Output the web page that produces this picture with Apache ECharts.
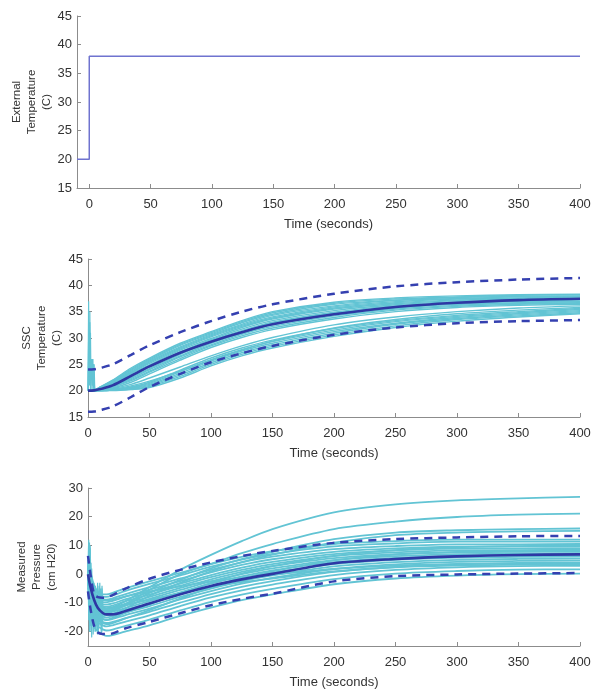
<!DOCTYPE html>
<html>
<head>
<meta charset="utf-8">
<title>SSC temperature and pressure</title>
<script src="https://cdn.jsdelivr.net/npm/echarts@6/dist/echarts.min.js"></script>
<style>
  html, body { margin: 0; padding: 0; background: #fff; }
  #main { width: 602px; height: 700px; }
</style>
</head>
<body>
<div id="main"></div>
<script>
// ---- data ----
// tick labels
const timeTicks = [0, 50, 100, 150, 200, 250, 300, 350, 400]
const tempTicks = [15, 20, 25, 30, 35, 40, 45]
const presTicks = [-20, -10, 0, 10, 20, 30]

// 1. external temperature (step)
const extTime = [-10, 0, 0, 400]
const extTemp = [20, 20, 38, 38]

// 2. SSC temperature
const sscTime = [0, 5, 10, 20, 35, 50, 75, 100, 125, 150, 200, 250, 300, 350, 400]
const sscMean = [20, 20.05, 20.3, 21.0, 22.8, 24.6, 27.2, 29.3, 31.1, 32.6, 34.5, 35.9, 36.7, 37.2, 37.45]
const sscUpper = [24, 24.05, 24.3, 25.0, 26.8, 28.6, 31.1, 33.2, 35.0, 36.4, 38.4, 39.8, 40.6, 41.1, 41.4]
const sscLower = [16, 16.05, 16.3, 17.0, 18.8, 20.7, 23.2, 25.4, 27.1, 28.5, 30.6, 32.0, 32.8, 33.2, 33.4]
const sscRuns = [
  // main group
  [20, 20.1, 20.7, 22.0, 24.3, 26.2, 29.0, 31.2, 33.3, 35.0, 36.8, 37.6, 38.0, 38.2, 38.3],
  [20, 20.1, 20.7, 21.9, 24.1, 26.0, 28.8, 31.0, 33.1, 34.8, 36.6, 37.4, 37.8, 38.1, 38.2],
  [20, 20.1, 20.6, 21.8, 23.9, 25.8, 28.6, 30.8, 32.9, 34.5, 36.4, 37.2, 37.7, 37.9, 38.0],
  [20, 20.1, 20.6, 21.7, 23.7, 25.6, 28.3, 30.6, 32.6, 34.3, 36.1, 37.1, 37.5, 37.8, 37.9],
  [20, 20.1, 20.5, 21.6, 23.5, 25.4, 28.1, 30.4, 32.4, 34.0, 35.9, 36.9, 37.4, 37.6, 37.8],
  [20, 20.1, 20.5, 21.5, 23.4, 25.2, 27.9, 30.2, 32.2, 33.8, 35.7, 36.7, 37.2, 37.5, 37.6],
  [20, 20.1, 20.4, 21.4, 23.2, 24.9, 27.7, 29.9, 32.0, 33.6, 35.5, 36.5, 37.1, 37.4, 37.5],
  [20, 20.1, 20.4, 21.3, 23.0, 24.7, 27.4, 29.7, 31.7, 33.3, 35.2, 36.3, 36.9, 37.2, 37.4],
  [20, 20.0, 20.4, 21.1, 22.7, 24.5, 27.1, 29.5, 31.4, 33.0, 34.9, 36.1, 36.7, 37.0, 37.2],
  [20, 20.0, 20.3, 21.0, 22.5, 24.2, 26.9, 29.2, 31.2, 32.8, 34.7, 35.9, 36.5, 36.9, 37.0],
  [20, 20.0, 20.3, 20.9, 22.3, 24.0, 26.6, 29.0, 30.9, 32.5, 34.4, 35.7, 36.4, 36.7, 36.9],
  [20, 20.0, 20.2, 20.8, 22.1, 23.7, 26.4, 28.7, 30.7, 32.2, 34.2, 35.5, 36.2, 36.6, 36.7],
  [20, 20.0, 20.2, 20.7, 21.9, 23.5, 26.1, 28.5, 30.4, 31.9, 33.9, 35.3, 36.0, 36.4, 36.6],
  [20, 20.0, 20.1, 20.5, 21.6, 23.2, 25.8, 28.2, 30.1, 31.6, 33.6, 35.0, 35.8, 36.2, 36.4],
  // in between
  [20, 20.0, 20.1, 20.4, 21.2, 22.4, 24.5, 26.6, 28.5, 30.1, 32.5, 34.0, 35.0, 35.7, 36.1],
  [20, 20.0, 20.1, 20.3, 20.9, 21.8, 23.7, 25.8, 27.7, 29.4, 31.9, 33.5, 34.6, 35.3, 35.8],
  // slow group
  [20, 20.0, 20.0, 20.2, 20.7, 21.6, 23.9, 26.2, 28.1, 29.6, 31.8, 33.3, 34.3, 35.0, 35.6],
  [20, 20.0, 20.0, 20.2, 20.6, 21.4, 23.6, 25.9, 27.8, 29.3, 31.5, 33.1, 34.1, 34.8, 35.4],
  [20, 20.0, 20.0, 20.1, 20.5, 21.2, 23.3, 25.6, 27.5, 29.0, 31.2, 32.8, 33.9, 34.6, 35.2],
  [20, 20.0, 20.0, 20.1, 20.4, 21.0, 23.0, 25.3, 27.2, 28.7, 30.9, 32.6, 33.7, 34.4, 35.0],
  [20, 20.0, 20.0, 20.1, 20.3, 20.8, 22.7, 25.0, 26.9, 28.4, 30.6, 32.3, 33.5, 34.2, 34.8],
  [20, 20.0, 20.0, 20.0, 20.2, 20.6, 22.4, 24.7, 26.6, 28.1, 30.3, 32.0, 33.2, 34.0, 34.6]
]
// start-up noise on the SSC traces
const sscNoiseTime = [0, 0.5, 1, 1.5, 2, 2.5, 3, 3.5, 4, 4.5, 5, 5.5]
const sscNoise = [
  [20, 37, 21, 33, 20, 25, 22, 26, 20, 25, 21, 20],
  [20, 30, 22, 35, 21, 24, 25, 21, 26, 20, 25, 20],
  [20, 26, 29, 22, 31, 20, 26, 25, 21, 24, 22, 20]
]

// 3. measured pressure
const presTime = [0, 2, 5, 8, 12, 15, 20, 30, 50, 75, 100, 125, 150, 200, 250, 300, 350, 400]
const presMean = [0, -4.5, -9, -11.8, -13.5, -14.0, -14.0, -12.9, -10.2, -7.0, -4.1, -1.8, 0.1, 3.8, 5.3, 6.2, 6.7, 6.9]
const presUpper = [6.4, 0, -7, -8, -8.2, -8, -7.3, -5.1, -1.6, 1.5, 4.1, 6.3, 8.1, 10.9, 12.2, 12.8, 13.2, 13.3]
const presLower = [-6, -12, -18, -20.3, -20.8, -20.8, -20.6, -18.9, -16.6, -13.6, -10.8, -8.6, -6.8, -2.5, -0.7, -0.1, 0.2, 0.4]
const presRuns = [
  // runs drifting high
  [2, -2, -7, -10, -11.5, -11.8, -11.5, -9.5, -4.5, 1.5, 6.7, 11.5, 15.7, 21.5, 24.3, 25.7, 26.4, 26.9],
  [1, -3, -8, -11, -12.5, -12.8, -12.4, -10.5, -5.5, 0, 3.6, 7.3, 10.5, 15.7, 18.3, 19.9, 20.7, 21.1],
  [0, -4, -9, -12, -13, -13.2, -12.8, -11, -6.5, -2, 2.0, 5.2, 7.8, 12.2, 14.5, 15.3, 15.7, 15.9],
  [-1, -5, -10, -13, -14, -14.2, -13.8, -12, -7.5, -3, 1.0, 4.2, 6.8, 11.0, 13.6, 14.5, 14.9, 15.1],
  // main band
  [5, 1, -4, -6, -7, -7, -6.5, -5, -2.5, 0.5, 3.5, 6, 8, 10.5, 11.5, 12, 12, 12],
  [4.3, 0.2, -4.8, -6.8, -7.8, -7.9, -7.4, -5.9, -3.4, -0.4, 2.6, 5.1, 7.1, 9.7, 10.7, 11.3, 11.3, 11.3],
  [3.6, -0.8, -5.8, -7.8, -8.8, -8.9, -8.4, -7.0, -4.5, -1.5, 1.5, 4.1, 6.1, 8.7, 9.8, 10.4, 10.4, 10.5],
  [2.9, -1.7, -6.7, -8.7, -9.7, -9.8, -9.3, -7.9, -5.4, -2.4, 0.6, 3.2, 5.2, 7.8, 9.0, 9.6, 9.7, 9.8],
  [2.3, -2.5, -7.5, -9.5, -10.5, -10.6, -10.2, -8.8, -6.3, -3.3, -0.3, 2.3, 4.3, 7.0, 8.3, 8.9, 9.0, 9.1],
  [1.7, -3.2, -8.2, -10.2, -11.2, -11.4, -10.9, -9.5, -7.1, -4.0, -1.0, 1.5, 3.5, 6.3, 7.6, 8.3, 8.4, 8.5],
  [1.2, -3.9, -8.9, -10.9, -11.9, -12.1, -11.7, -10.3, -7.9, -4.8, -1.8, 0.8, 2.8, 5.6, 7.0, 7.6, 7.8, 7.9],
  [0.6, -4.6, -9.6, -11.6, -12.6, -12.8, -12.4, -11.0, -8.6, -5.5, -2.5, 0.0, 2.0, 4.9, 6.3, 7.0, 7.2, 7.3],
  [0.1, -5.3, -10.3, -12.3, -13.3, -13.5, -13.1, -11.8, -9.4, -6.3, -3.3, -0.8, 1.3, 4.2, 5.7, 6.4, 6.6, 6.7],
  [-0.5, -6.0, -11.0, -13.0, -14.0, -14.3, -13.9, -12.5, -10.2, -7.0, -4.1, -1.5, 0.5, 3.5, 5.0, 5.8, 6.0, 6.1],
  [-1.2, -6.8, -11.8, -13.8, -14.8, -15.1, -14.7, -13.4, -11.1, -7.9, -5.0, -2.4, -0.4, 2.7, 4.2, 5.0, 5.3, 5.4],
  [-1.8, -7.7, -12.7, -14.7, -15.7, -16.0, -15.6, -14.3, -12.0, -8.8, -5.9, -3.3, -1.3, 1.8, 3.4, 4.3, 4.6, 4.7],
  [-2.6, -8.7, -13.7, -15.7, -16.7, -17.0, -16.6, -15.4, -13.1, -9.9, -6.9, -4.4, -2.4, 0.8, 2.5, 3.4, 3.7, 3.9],
  [-3.5, -9.8, -14.8, -16.8, -17.8, -18.2, -17.8, -16.6, -14.3, -11.1, -8.1, -5.6, -3.6, -0.3, 1.5, 2.4, 2.8, 2.9],
  [-4.6, -11.2, -16.2, -18.2, -19.2, -19.6, -19.3, -18.1, -15.8, -12.6, -9.6, -7.1, -5.1, -1.7, 0.2, 1.1, 1.6, 1.7],
  [-6, -13, -18, -20, -21, -21.5, -21.2, -20, -17.8, -14.5, -11.6, -9, -7, -3.5, -1.5, -0.5, 0, 0.2],
  // crossing runs
  [-3, -9, -14, -16, -17, -17.4, -17, -15.5, -12.5, -8.5, -4.5, -1.5, 1.0, 4.8, 6.8, 7.8, 8.2, 8.4],
  [3, -1, -6, -8, -9, -9.2, -8.8, -7.8, -6.0, -4.2, -2.5, -1.2, -0.2, 1.8, 3.0, 3.6, 3.9, 4.0],
  [-1, -7, -12, -14.5, -15.5, -15.8, -15.2, -13.6, -10.5, -6.8, -3.0, 0.2, 2.8, 6.4, 8.4, 9.4, 9.8, 10.0],
  [1, -4, -9, -11, -12, -12.2, -11.9, -10.8, -8.9, -6.6, -4.5, -2.8, -1.5, 1.0, 2.4, 3.0, 3.3, 3.4]
]
const presNoiseTime = [0, 0.6, 1.2, 1.8, 2.4, 3, 3.6, 4.2, 4.8, 5.4, 6, 6.6, 7.2, 7.8, 8.4, 9, 9.6, 10.2, 10.8, 11.4, 12]
const presNoise = [
  [3, 12, -8, 9, -15, -3, -18, -6, -12, -4, -20, -7, -14, -5, -19, -4, -16, -6, -18, -5, -12],
  [-2, 8, -20, 10, -6, -22, -5, -10, -3, -19, -8, -16, -8, -21, -6, -13, -3, -17, -9, -4, -15],
  [0, -10, 11, -18, 4, -4, -14, -7, -20, -6, -11, -17, -11, -3, -20, -9, -15, -5, -13, -20, -8],
  [5, -16, 6, -12, -20, 2, -9, -21, -8, -14, -4, -10, -19, -9, -12, -18, -6, -14, -21, -10, -17]
]

// ---- style ----
const font = 'Liberation Sans, Arial, Helvetica, sans-serif'
const axisGray = '#8c8c8c'
const textGray = '#333333'
const cyan = '#62c4d4'
const darkBlue = '#2e38a4'
const dashBlue = '#3540b0'
const stepBlue = '#6f73cf'

function pairs(times, values) {
  return times.map((t, i) => [t, values[i]])
}

function xAxisFor(grid, min) {
  return {
    type: 'value', gridIndex: grid, min: min, max: 400,
    name: 'Time (seconds)', nameLocation: 'middle', nameGap: 30,
    nameTextStyle: { color: textGray, fontSize: 13, fontFamily: font },
    axisLine: { onZero: false, lineStyle: { color: axisGray, width: 1 } },
    axisTick: { inside: true, length: 4, customValues: timeTicks, lineStyle: { color: axisGray } },
    axisLabel: { customValues: timeTicks, color: textGray, fontSize: 13, margin: 10, fontFamily: font },
    splitLine: { show: false }
  }
}

function yAxisFor(grid, min, max, ticks, name, gap) {
  return {
    type: 'value', gridIndex: grid, min: min, max: max,
    name: name, nameLocation: 'middle', nameRotate: 90, nameGap: gap, nameMoveOverlap: false,
    nameTextStyle: { color: textGray, fontSize: 11.5, lineHeight: 15, fontFamily: font, align: 'center' },
    axisLine: { show: true, onZero: false, lineStyle: { color: axisGray, width: 1 } },
    axisTick: { inside: true, length: 4, customValues: ticks, lineStyle: { color: axisGray } },
    axisLabel: { customValues: ticks, color: textGray, fontSize: 13, margin: 5, fontFamily: font },
    splitLine: { show: false }
  }
}

function line(grid, times, values, color, width, extra) {
  return Object.assign({
    type: 'line', xAxisIndex: grid, yAxisIndex: grid,
    data: pairs(times, values), showSymbol: false, symbol: 'none',
    lineStyle: { color: color, width: width }, itemStyle: { color: color },
    silent: true
  }, extra || {})
}

function dashed(grid, times, values) {
  return line(grid, times, values, dashBlue, 2.5, {
    smooth: 0.3, lineStyle: { color: dashBlue, width: 2.5, type: [8, 6] }
  })
}

const series = []
// top panel
series.push(line(0, extTime, extTemp, stepBlue, 1.5))
// middle panel
sscNoise.forEach(v => series.push(line(1, sscNoiseTime, v, cyan, 1.2)))
sscRuns.forEach(v => series.push(line(1, sscTime, v, cyan, 1.4, { smooth: 0.3 })))
series.push(dashed(1, sscTime, sscUpper))
series.push(dashed(1, sscTime, sscLower))
series.push(line(1, sscTime, sscMean, darkBlue, 2.6, { smooth: 0.3 }))
// bottom panel
presNoise.forEach(v => series.push(line(2, presNoiseTime, v, cyan, 1.2)))
presRuns.forEach(v => series.push(line(2, presTime, v, cyan, 1.8, { smooth: 0.3 })))
series.push(dashed(2, presTime, presUpper))
series.push(dashed(2, presTime, presLower))
series.push(line(2, presTime, presMean, darkBlue, 2.6, { smooth: 0.3 }))

const myChart = echarts.init(document.getElementById('main'), null, { renderer: 'canvas' })
myChart.setOption({
  animation: false,
  backgroundColor: '#ffffff',
  grid: [
    { left: 77, top: 16, width: 503, height: 172, outerBoundsMode: 'none' },
    { left: 88, top: 259, width: 492, height: 158, outerBoundsMode: 'none' },
    { left: 88, top: 488, width: 492, height: 158, outerBoundsMode: 'none' }
  ],
  xAxis: [xAxisFor(0, -10), xAxisFor(1, 0), xAxisFor(2, 0)],
  yAxis: [
    yAxisFor(0, 15, 45, tempTicks, 'External\nTemperature\n(C)', 23),
    yAxisFor(1, 15, 45, tempTicks, 'SSC\nTemperature\n(C)', 24),
    yAxisFor(2, -25, 30, presTicks, 'Measured\nPressure\n(cm H20)', 29)
  ],
  series: series
})
</script>
</body>
</html>
